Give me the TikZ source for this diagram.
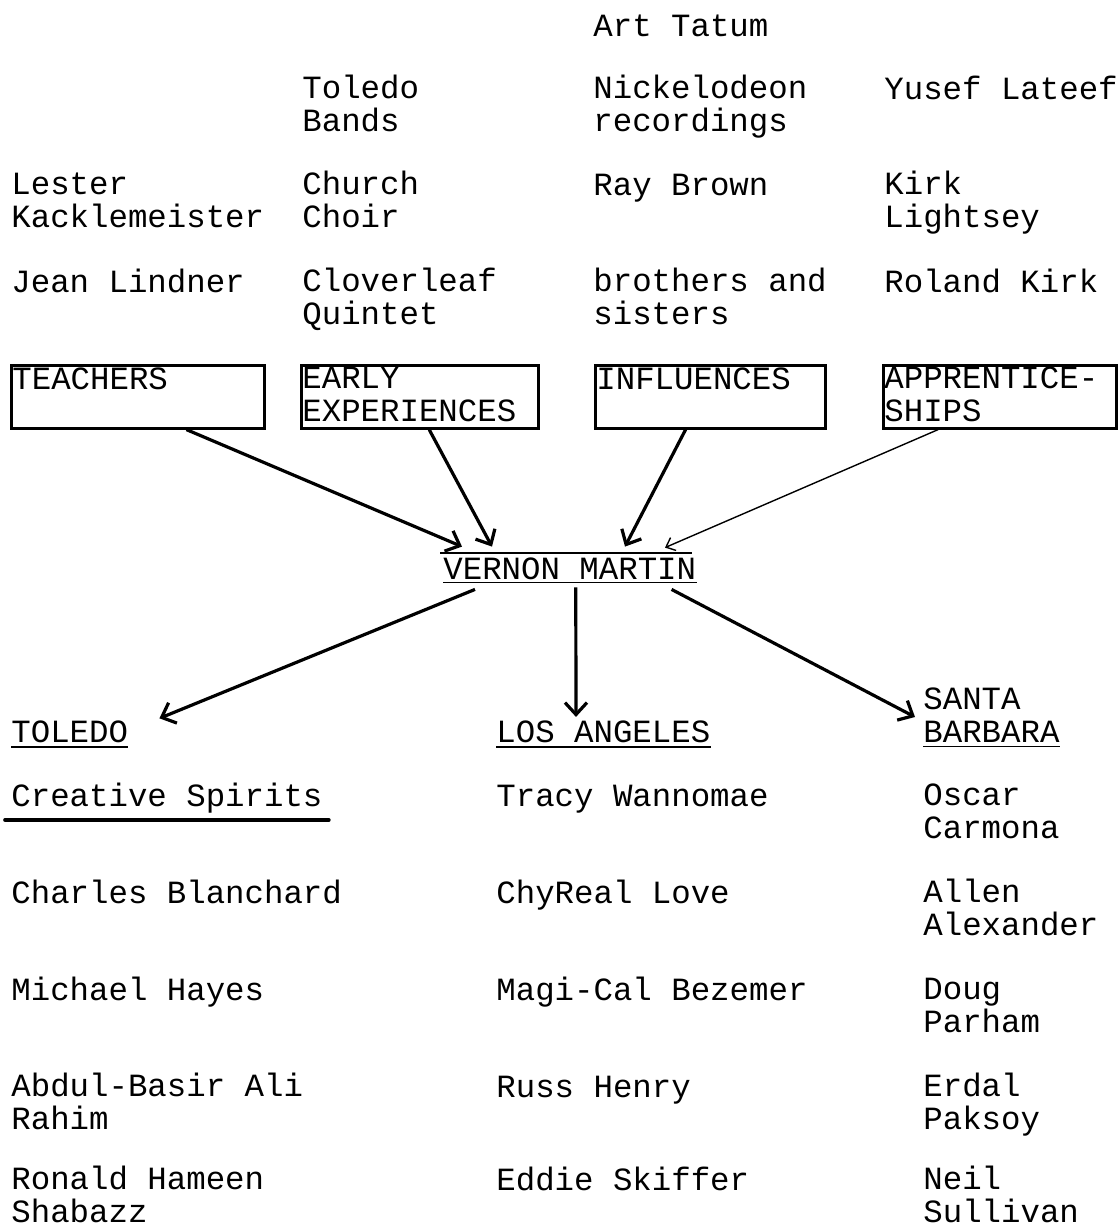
\documentclass[tikz,border=0pt]{standalone}
\usepackage{fontspec}
\setmonofont{Liberation Mono}
\usetikzlibrary{arrows.meta,calc}

\tikzset{
  txt/.style={anchor=base west,inner sep=0pt,align=left,
    font=\ttfamily\fontsize{16.2pt}{16.15pt}\selectfont},
  box/.style={draw,line width=1.3pt,anchor=north west,inner sep=0pt,minimum height=31.5pt},
  link/.style={line width=1.6pt,-{Straight Barb[length=6pt,width=11pt,line width=1.6pt]}},
  thin link/.style={line width=0.7pt,-{Straight Barb[length=4pt,width=7pt,line width=0.7pt]}},
  uline/.style={line width=0.9pt}
}

\begin{document}
\begin{tikzpicture}[x=0.5pt,y=-0.5pt]
\useasboundingbox (0,0) rectangle (1118,1228);

% the four columns at the top (y = baseline of the last line)
\node[txt] (tatum) at (593,36) {Art Tatum};
\node[txt] (bands) at (302,131) {Toledo\\Bands};
\node[txt] (nickel) at (593,131) {Nickelodeon\\recordings};
\node[txt] (lateef) at (884,99) {Yusef Lateef};
\node[txt] (lester) at (11,227) {Lester\\Kacklemeister};
\node[txt] (choir) at (302,227) {Church\\Choir};
\node[txt] (brown) at (593,195) {Ray Brown};
\node[txt] (lightsey) at (884,227) {Kirk\\Lightsey};
\node[txt] (lindner) at (11,292) {Jean Lindner};
\node[txt] (clover) at (302,324) {Cloverleaf\\Quintet};
\node[txt] (family) at (593,324) {brothers and\\sisters};
\node[txt] (rkirk) at (884,292) {Roland Kirk};

% boxes
\node[box,minimum width=126.5pt] (teachers) at (10,364) {};
\node[box,minimum width=118.5pt] (early) at (300,364) {};
\node[box,minimum width=115pt] (infl) at (594,364) {};
\node[box,minimum width=116.5pt] (appr) at (882,364) {};
\node[txt] (teacherslbl) at (12,389) {TEACHERS};
\node[txt] (earlylbl) at (302,421) {EARLY\\EXPERIENCES};
\node[txt] (infllbl) at (596,389) {INFLUENCES};
\node[txt] (apprlbl) at (884,421) {APPRENTICE-\\SHIPS};

% centre
\node[txt,inner ysep=1.5pt,text height=11.5pt,text depth=0pt] (vm) at (443,579) {VERNON MARTIN};
\draw[uline] ([xshift=-1.5pt]vm.north west) -- ([xshift=-2.5pt]vm.north east);
\draw[uline] (vm.south west) -- (vm.south east);

\draw[link] (teachers.-34) -- ($(vm.north west)+(19,-6)$);
\draw[link] (early.-74) -- ($(vm.north west)+(49,-6)$);
\draw[link] (infl.-127) -- ($(vm.north west)+(182,-6)$);
\draw[thin link] (appr.-152) -- ($(vm.north west)+(222,-5)$);

% places
\node[txt] (toledo) at (11,742) {TOLEDO};
\node[txt] (la) at (496,742) {LOS ANGELES};
\node[txt] (sb) at (923,742) {SANTA\\BARBARA};
\foreach \n in {toledo,la,sb}
  \draw[uline] ([yshift=-2pt]\n.south west) -- ([yshift=-2pt]\n.south east);

\draw[link] ($(vm.south west)+(32,7)$) -- ($(toledo.east)+(31,-13)$);
\draw[link] ($(vm.south)+(6,5)$) -- ($(la.north west)+(80,-3)$);
\draw[link] ($(vm.south east)+(-25,7)$) -- ($(sb.base west)+(-8,-25)$);

% people
\foreach \who/\y [count=\i] in {Creative Spirits/806,Charles Blanchard/903,Michael Hayes/1000,
    Abdul-Basir Ali\\Rahim/1129,Ronald Hameen\\Shabazz/1222}
  \node[txt] (tol\i) at (11,\y) {\who};
\foreach \who/\y [count=\i] in {Tracy Wannomae/806,ChyReal Love/903,Magi-Cal Bezemer/1000,
    Russ Henry/1097,Eddie Skiffer/1190}
  \node[txt] (la\i) at (496,\y) {\who};
\foreach \who/\y [count=\i] in {Oscar\\Carmona/838,Allen\\Alexander/935,Doug\\Parham/1032,
    Erdal\\Paksoy/1129,Neil\\Sullivan/1222}
  \node[txt] (sb\i) at (923,\y) {\who};

\draw[line width=1.8pt,line cap=round] ($(tol1.base west)+(-6,14)$) -- ($(tol1.base east)+(6,14)$);
\end{tikzpicture}
\end{document}
